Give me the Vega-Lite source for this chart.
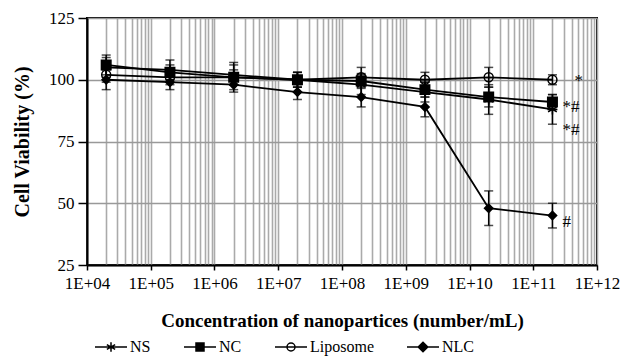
{
  "$schema": "https://vega.github.io/schema/vega-lite/v6.json",
  "autosize": "none",
  "width": 510,
  "height": 247,
  "padding": {"left": 87, "top": 18, "right": 26, "bottom": 94},
  "background": "white",
  "config": {
    "font": "Liberation Serif",
    "view": {"stroke": "black", "strokeWidth": 2},
    "axis": {
      "domainColor": "black",
      "domainWidth": 2,
      "tickColor": "black",
      "tickWidth": 1.5,
      "labelColor": "black",
      "labelFont": "Liberation Serif",
      "titleFont": "Liberation Serif",
      "labelFontSize": 17,
      "titleFontWeight": "bold",
      "titleColor": "black",
      "gridColor": "#aaaaaa",
      "gridWidth": 1.6,
      "gridOpacity": 1
    }
  },
  "datasets": {
    "viab": [
      {"series": "NS", "conc": 2e4, "v": 105, "lo": 101, "hi": 109},
      {"series": "NS", "conc": 2e5, "v": 104, "lo": 100, "hi": 108},
      {"series": "NS", "conc": 2e6, "v": 102, "lo": 98, "hi": 106},
      {"series": "NS", "conc": 2e7, "v": 100, "lo": 97, "hi": 103},
      {"series": "NS", "conc": 2e8, "v": 98, "lo": 94, "hi": 102},
      {"series": "NS", "conc": 2e9, "v": 95, "lo": 91, "hi": 99},
      {"series": "NS", "conc": 2e10, "v": 92, "lo": 86, "hi": 98},
      {"series": "NS", "conc": 2e11, "v": 88, "lo": 82, "hi": 94},
      {"series": "NC", "conc": 2e4, "v": 106, "lo": 102, "hi": 110},
      {"series": "NC", "conc": 2e5, "v": 103, "lo": 100, "hi": 106},
      {"series": "NC", "conc": 2e6, "v": 101, "lo": 96, "hi": 107},
      {"series": "NC", "conc": 2e7, "v": 100, "lo": 97, "hi": 103},
      {"series": "NC", "conc": 2e8, "v": 99.5, "lo": 96.5, "hi": 102.5},
      {"series": "NC", "conc": 2e9, "v": 96, "lo": 93, "hi": 99},
      {"series": "NC", "conc": 2e10, "v": 93, "lo": 89, "hi": 97},
      {"series": "NC", "conc": 2e11, "v": 91, "lo": 88, "hi": 94},
      {"series": "Liposome", "conc": 2e4, "v": 102, "lo": 99, "hi": 105},
      {"series": "Liposome", "conc": 2e5, "v": 101, "lo": 98, "hi": 104},
      {"series": "Liposome", "conc": 2e6, "v": 101, "lo": 98, "hi": 104},
      {"series": "Liposome", "conc": 2e7, "v": 100, "lo": 97, "hi": 103},
      {"series": "Liposome", "conc": 2e8, "v": 101, "lo": 98, "hi": 105},
      {"series": "Liposome", "conc": 2e9, "v": 100, "lo": 97, "hi": 103},
      {"series": "Liposome", "conc": 2e10, "v": 101, "lo": 97, "hi": 105},
      {"series": "Liposome", "conc": 2e11, "v": 100, "lo": 98, "hi": 102},
      {"series": "NLC", "conc": 2e4, "v": 100, "lo": 96, "hi": 104},
      {"series": "NLC", "conc": 2e5, "v": 99, "lo": 96, "hi": 102},
      {"series": "NLC", "conc": 2e6, "v": 98, "lo": 95, "hi": 101},
      {"series": "NLC", "conc": 2e7, "v": 95, "lo": 92, "hi": 98},
      {"series": "NLC", "conc": 2e8, "v": 93, "lo": 89, "hi": 97},
      {"series": "NLC", "conc": 2e9, "v": 89, "lo": 85, "hi": 93},
      {"series": "NLC", "conc": 2e10, "v": 48, "lo": 41, "hi": 55},
      {"series": "NLC", "conc": 2e11, "v": 45, "lo": 40, "hi": 50}
    ],
    "notesFar": [
      {"conc": 2e11, "v": 97.5, "label": "*"}
    ],
    "notesNear": [
      {"conc": 2e11, "v": 87, "label": "*#"},
      {"conc": 2e11, "v": 77.6, "label": "*#"},
      {"conc": 2e11, "v": 40.4, "label": "#"}
    ]
  },
  "encoding": {
    "x": {
      "field": "conc",
      "type": "quantitative",
      "scale": {"type": "log", "domain": [1e4, 1e12], "nice": false},
      "axis": {
        "title": "Concentration of nanopartices (number/mL)",
        "titleFontSize": 19,
        "titlePadding": 20,
        "values": [1e4,2e4,3e4,4e4,5e4,6e4,7e4,8e4,9e4,1e5,2e5,3e5,4e5,5e5,6e5,7e5,8e5,9e5,1e6,2e6,3e6,4e6,5e6,6e6,7e6,8e6,9e6,1e7,2e7,3e7,4e7,5e7,6e7,7e7,8e7,9e7,1e8,2e8,3e8,4e8,5e8,6e8,7e8,8e8,9e8,1e9,2e9,3e9,4e9,5e9,6e9,7e9,8e9,9e9,1e10,2e10,3e10,4e10,5e10,6e10,7e10,8e10,9e10,1e11,2e11,3e11,4e11,5e11,6e11,7e11,8e11,9e11,1e12],
        "labelExpr": "abs(log(datum.value)/LN10 - round(log(datum.value)/LN10)) < 0.001 ? '1E+' + (round(log(datum.value)/LN10) < 10 ? '0' : '') + round(log(datum.value)/LN10) : ''",
        "tickSize": 5,
        "tickOpacity": {"condition": {"test": "abs(log(datum.value)/LN10 - round(log(datum.value)/LN10)) < 0.001", "value": 1}, "value": 0},
        "labelPadding": 5,
        "labelOverlap": false,
        "labelBound": false,
        "labelFlush": false
      }
    },
    "y": {
      "field": "v",
      "type": "quantitative",
      "scale": {"domain": [25, 125], "nice": false, "zero": false},
      "axis": {
        "title": "Cell  Viability (%)",
        "titleFontSize": 20,
        "titlePadding": 16,
        "values": [25, 50, 75, 100, 125],
        "tickSize": 9,
        "labelPadding": 4,
        "gridColor": "#999999"
      }
    }
  },
  "layer": [
    {
      "data": {"name": "viab"},
      "mark": {"type": "line", "color": "black", "strokeWidth": 1.8},
      "encoding": {"detail": {"field": "series"}, "order": {"field": "conc"}}
    },
    {
      "data": {"name": "viab"},
      "mark": {"type": "errorbar", "color": "black", "thickness": 1.5, "ticks": true, "size": 9},
      "encoding": {
        "y": {"field": "lo", "type": "quantitative", "title": "Cell  Viability (%)"},
        "y2": {"field": "hi"},
        "detail": {"field": "series"}
      }
    },
    {
      "data": {"name": "viab"},
      "mark": {"type": "point", "filled": true, "stroke": "black", "strokeWidth": 1.5, "opacity": 1},
      "encoding": {
        "shape": {
          "field": "series",
          "scale": {"domain": ["NS", "NC", "Liposome", "NLC"], "range": ["M0,-1L0,1M-0.87,-0.5L0.87,0.5M-0.87,0.5L0.87,-0.5M-1,0L1,0", "square", "circle", "diamond"]},
          "legend": null
        },
        "fill": {
          "field": "series",
          "scale": {"domain": ["NS", "NC", "Liposome", "NLC"], "range": ["transparent", "black", "transparent", "black"]},
          "legend": null
        },
        "size": {
          "field": "series",
          "scale": {"domain": ["NS", "NC", "Liposome", "NLC"], "range": [100, 70, 80, 90]},
          "legend": null
        }
      }
    },
    {
      "data": {"name": "viab"},
      "transform": [{"filter": "datum.conc < 0"}],
      "mark": {"type": "point", "filled": true, "strokeWidth": 1.5},
      "encoding": {
        "shape": {
          "field": "series",
          "scale": {"domain": ["NS", "NC", "Liposome", "NLC"], "range": [
            "M-1,0L1,0M0,-0.3L0,0.3M-0.26,-0.15L0.26,0.15M-0.26,0.15L0.26,-0.15",
            "M-1,0L1,0M-0.25,-0.25L0.25,-0.25L0.25,0.25L-0.25,0.25Z",
            "M-1,0L1,0M0.25,0A0.25,0.25,0,1,1,-0.25,0A0.25,0.25,0,1,1,0.25,0",
            "M-1,0L1,0M0,-0.3L0.3,0L0,0.3L-0.3,0Z"
          ]},
          "legend": {
            "title": null,
            "orient": "none",
            "direction": "horizontal",
            "legendX": 7,
            "legendY": 312,
            "padding": 0,
            "symbolSize": 1024,
            "symbolStrokeWidth": 1.5,
            "symbolOpacity": 1,
            "labelFont": "Liberation Serif",
            "labelFontSize": 16,
            "labelColor": "black",
            "labelOffset": 2,
            "columnPadding": 30
          }
        },
        "fill": {
          "field": "series",
          "scale": {"domain": ["NS", "NC", "Liposome", "NLC"], "range": ["transparent", "black", "transparent", "black"]}
        },
        "stroke": {
          "field": "series",
          "scale": {"domain": ["NS", "NC", "Liposome", "NLC"], "range": ["black", "black", "black", "black"]}
        }
      }
    },
    {
      "data": {"name": "notesFar"},
      "mark": {"type": "text", "align": "left", "baseline": "alphabetic", "dx": 22, "fontSize": 17, "font": "Liberation Serif", "color": "black"},
      "encoding": {"text": {"field": "label"}}
    },
    {
      "data": {"name": "notesNear"},
      "mark": {"type": "text", "align": "left", "baseline": "alphabetic", "dx": 10, "fontSize": 17, "font": "Liberation Serif", "color": "black"},
      "encoding": {"text": {"field": "label"}}
    }
  ],
  "resolve": {"scale": {"shape": "independent", "fill": "independent", "size": "independent", "stroke": "independent"}}
}
